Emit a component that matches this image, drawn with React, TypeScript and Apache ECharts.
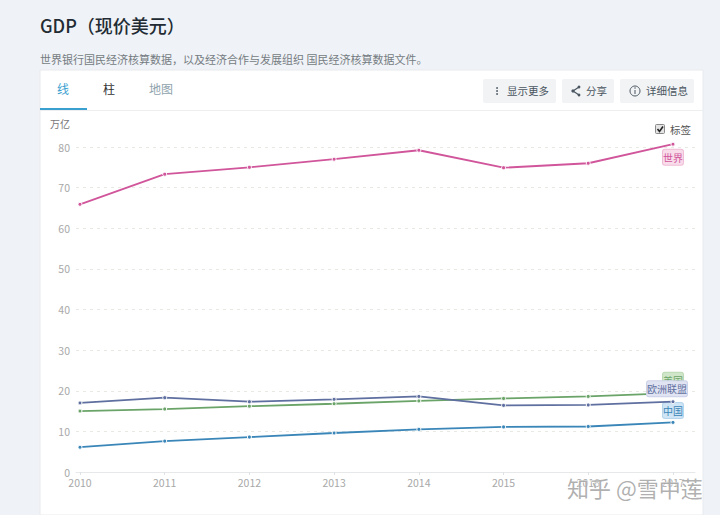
import React, { useEffect, useRef } from "react";
import * as echarts from "echarts";

const years = [2010, 2011, 2012, 2013, 2014, 2015, 2016, 2017];
const yTicks = [0, 10, 20, 30, 40, 50, 60, 70, 80];
const world = [65.9, 73.3, 75, 77, 79.2, 74.9, 76, 80.7];
const eu = [17, 18.3, 17.3, 17.9, 18.6, 16.4, 16.5, 17.3];
const usa = [15, 15.5, 16.2, 16.8, 17.5, 18.1, 18.6, 19.4];
const china = [6.1, 7.6, 8.6, 9.6, 10.5, 11.1, 11.2, 12.2];
const FONT = '"Noto Sans CJK SC", "Noto Sans", sans-serif';

function line(name: string, values: number[], color: string, bg: string, border: string, offset: number[], z: number) {
  return {
    name,
    type: "line",
    z,
    clip: false,
    symbol: "circle",
    symbolSize: 4,
    lineStyle: { color, width: 1.8 },
    itemStyle: { color, borderColor: "#ffffff", borderWidth: 1 },
    data: values.map((v, i) => ({
      value: [years[i], v],
      label: i === values.length - 1
        ? {
            show: true, position: "inside", offset, formatter: name, color, fontFamily: FONT, fontSize: 10,
            backgroundColor: bg, borderColor: border, borderWidth: 1, borderRadius: 2, padding: [3, 0, 2, 0],
          }
        : { show: false },
    })),
  };
}

function button(x: number, w: number, text: string, textX: number) {
  return [
    { type: "rect", shape: { x, y: 79, width: w, height: 24, r: 2 }, style: { fill: "#f1f3f5" } },
    { type: "text", x: textX, y: 90.5, style: { text, fill: "#4a5560", font: `10.5px ${FONT}`, textVerticalAlign: "middle" } },
  ];
}

export default function App() {
  const ref = useRef<HTMLDivElement>(null);
  useEffect(() => {
    document.body.style.margin = "0";
    const chart = echarts.init(ref.current!, null, { renderer: "svg" });
    chart.setOption({
      animation: false,
      backgroundColor: "#eff2f6",
      grid: { left: 76, right: 25, top: 147, bottom: 43 },
      xAxis: {
        type: "value",
        min: 2009.953,
        max: 2017.26,
        splitLine: { show: false },
        axisLine: { show: true, onZero: false, lineStyle: { color: "#e6e8ea" } },
        axisTick: { show: true, length: 3, customValues: years, lineStyle: { color: "#dfe2e5" } },
        axisLabel: { customValues: years, color: "#a8a8a8", fontSize: 10.5, margin: 5, fontFamily: FONT, formatter: (v: number) => String(v) },
      },
      yAxis: {
        type: "value",
        min: 0,
        max: 80,
        interval: 10,
        axisLine: { show: false },
        axisTick: { show: false },
        splitLine: { lineStyle: { color: "#e9e9e4", type: [3, 4], width: 1 } },
        axisLabel: { color: "#a8a8a8", fontSize: 10.5, margin: 6, fontFamily: FONT, formatter: (v: number) => (yTicks.includes(v) ? String(v) : "") },
      },
      series: [
        line("世界", world, "#d0559a", "#f8dcea", "#efbcd6", [0, 13], 3),
        line("美国", usa, "#6ba468", "#cfe6c8", "#bcdab4", [0, -13], 2),
        line("欧洲联盟", eu, "#5f6f9f", "#dfe3f2", "#cbd1e8", [-6, -13], 4),
        line("中国", china, "#3a86b8", "#cfe4f4", "#b5d5ec", [0, -12], 3),
      ],
      graphic: [
        { type: "text", x: 40, y: 25, silent: true, style: { text: "GDP（现价美元）", fill: "#222b33", font: `500 18px ${FONT}`, textVerticalAlign: "middle" } },
        { type: "text", x: 40, y: 59, style: { text: "世界银行国民经济核算数据，以及经济合作与发展组织 国民经济核算数据文件。", fill: "#757c82", font: `11px ${FONT}`, textVerticalAlign: "middle" } },
        { type: "rect", z: -10, shape: { x: 40, y: 70, width: 663, height: 445 }, style: { fill: "#ffffff", stroke: "#e8eaed", lineWidth: 1 } },
        { type: "line", z: -9, shape: { x1: 40, y1: 110.5, x2: 703, y2: 110.5 }, style: { stroke: "#eceef0", lineWidth: 1 } },
        { type: "rect", shape: { x: 40, y: 108, width: 47, height: 2 }, style: { fill: "#3aa0cf" } },
        { type: "text", x: 57, y: 88, style: { text: "线", fill: "#3aa0cf", font: `12px ${FONT}`, textVerticalAlign: "middle" } },
        { type: "text", x: 103, y: 88, style: { text: "柱", fill: "#333333", font: `12px ${FONT}`, textVerticalAlign: "middle" } },
        { type: "text", x: 149, y: 88, style: { text: "地图", fill: "#8fa3ad", font: `12px ${FONT}`, textVerticalAlign: "middle" } },
        ...button(483, 73, "显示更多", 507),
        ...button(562, 52, "分享", 586),
        ...button(620, 74, "详细信息", 646),
        { type: "circle", shape: { cx: 497, cy: 88, r: 0.9 }, style: { fill: "#4a5560" } },
        { type: "circle", shape: { cx: 497, cy: 91, r: 0.9 }, style: { fill: "#4a5560" } },
        { type: "circle", shape: { cx: 497, cy: 94, r: 0.9 }, style: { fill: "#4a5560" } },
        { type: "polyline", shape: { points: [[579, 87], [573, 91], [579, 95]] }, style: { stroke: "#4a5560", fill: "none", lineWidth: 1.2 } },
        { type: "circle", shape: { cx: 573, cy: 91, r: 1.6 }, style: { fill: "#4a5560" } },
        { type: "circle", shape: { cx: 579, cy: 87, r: 1.4 }, style: { fill: "#4a5560" } },
        { type: "circle", shape: { cx: 579, cy: 95, r: 1.4 }, style: { fill: "#4a5560" } },
        { type: "circle", shape: { cx: 635, cy: 91, r: 5 }, style: { fill: "none", stroke: "#4a5560", lineWidth: 1 } },
        { type: "line", shape: { x1: 635, y1: 90, x2: 635, y2: 94 }, style: { stroke: "#4a5560", lineWidth: 1 } },
        { type: "circle", shape: { cx: 635, cy: 88, r: 0.7 }, style: { fill: "#4a5560" } },
        { type: "text", x: 50, y: 123, style: { text: "万亿", fill: "#777777", font: `10px ${FONT}`, textVerticalAlign: "middle" } },
        { type: "rect", shape: { x: 655.5, y: 124.5, width: 9, height: 9, r: 1 }, style: { fill: "#e4e4e4", stroke: "#8a8a8a", lineWidth: 1 } },
        { type: "polyline", shape: { points: [[657.5, 129], [659.5, 131.5], [663, 126.5]] }, style: { stroke: "#222222", fill: "none", lineWidth: 1.6 } },
        { type: "text", x: 670, y: 129, style: { text: "标签", fill: "#555555", font: `10.5px ${FONT}`, textVerticalAlign: "middle" } },
        { type: "text", x: 567, y: 487, z: 50, style: { text: "知乎 @雪中莲", fill: "rgba(150,150,150,0.75)", stroke: "rgba(255,255,255,0.8)", lineWidth: 1, font: `22px ${FONT}`, textVerticalAlign: "middle" } },
      ],
    });
    return () => chart.dispose();
  }, []);
  return <div ref={ref} style={{ width: 720, height: 515 }} />;
}
